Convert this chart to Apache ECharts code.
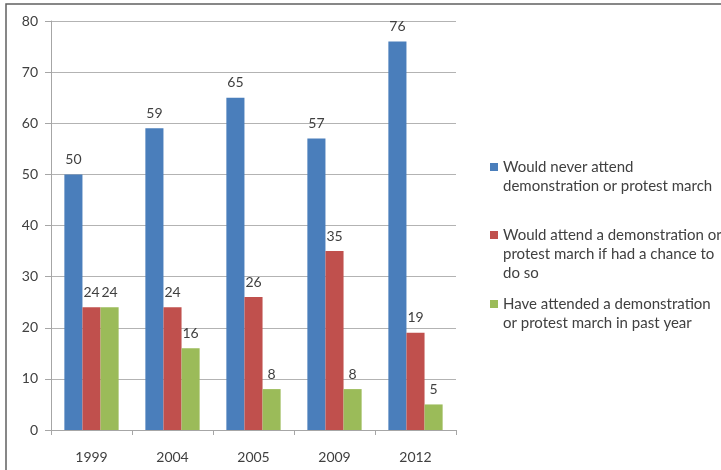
<!DOCTYPE html>
<html><head><meta charset="utf-8">
<script src="https://cdn.jsdelivr.net/npm/echarts@6/dist/echarts.min.js"></script>
<style>html,body{margin:0;padding:0;background:#fff}#c{width:721px;height:470px}</style>
</head><body><div id="c"></div>
<script>
var years = ['1999', '2004', '2005', '2009', '2012'];
var seriesNames = [
  'Would never attend demonstration or protest march',
  'Would attend a demonstration or protest march if had a chance to do so',
  'Have attended a demonstration or protest march in past year'
];
var legendLines = [
  ['Would never attend', 'demonstration or protest march'],
  ['Would attend a demonstration or', 'protest march if had a chance to', 'do so'],
  ['Have attended a demonstration', 'or protest march in past year']
];
var neverAttend = [50, 59, 65, 57, 76];
var wouldAttend = [24, 24, 26, 35, 19];
var haveAttended = [24, 16, 8, 8, 5];
var yTicks = [0, 10, 20, 30, 40, 50, 60, 70, 80];

var colors = ['#4a7ebb', '#c0504d', '#9bbb59'];
var font = 'Lato, "Open Sans", sans-serif';
var chart = echarts.init(document.getElementById('c'));

// leading blank lines keep the marker level with the first text line
function mkLegend(i, top) {
  var lines = legendLines[i];
  var pad = [];
  for (var k = 1; k < lines.length; k++) pad.push(' ');
  var text = pad.concat(lines).join('\n');
  return {
    data: [seriesNames[i]],
    left: 490, top: top, orient: 'vertical', padding: 0,
    itemWidth: 8, itemHeight: 8, itemGap: 5,
    icon: 'rect',
    formatter: function () { return text; },
    textStyle: { fontFamily: font, fontSize: 15, color: '#404040', lineHeight: 19 }
  };
}

var valueSets = [neverAttend, wouldAttend, haveAttended];
chart.setOption({
  animation: false,
  color: colors,
  grid: { left: 51, right: 265, top: 21, bottom: 40 },
  graphic: [{ type: 'rect', shape: { x: 6, y: 4, width: 800, height: 600 },
              style: { fill: 'none', stroke: '#606060', lineWidth: 1.5 } }],
  legend: [mkLegend(0, 138.5), mkLegend(1, 187.5), mkLegend(2, 275.5)],
  xAxis: {
    type: 'category', data: years,
    axisLine: { lineStyle: { color: '#a6a6a6' } },
    axisTick: { show: true, length: 5, alignWithLabel: false, lineStyle: { color: '#a6a6a6' } },
    axisLabel: { margin: 20, fontFamily: font, fontSize: 14, color: '#404040' }
  },
  yAxis: {
    type: 'value', min: yTicks[0], max: yTicks[yTicks.length - 1], interval: 10,
    axisLine: { show: true, lineStyle: { color: '#a6a6a6' } },
    axisTick: { show: true, length: 6, lineStyle: { color: '#a6a6a6' } },
    splitLine: { lineStyle: { color: '#b3b3b3' } },
    axisLabel: { margin: 13, fontFamily: font, fontSize: 14, color: '#404040' }
  },
  series: valueSets.map(function (vals, i) {
    return {
      type: 'bar', name: seriesNames[i], data: vals,
      barGap: '0%', barCategoryGap: '33%',
      label: { show: true, position: 'top', distance: 8, fontFamily: font, fontSize: 14, color: '#404040' }
    };
  })
});
</script></body></html>
